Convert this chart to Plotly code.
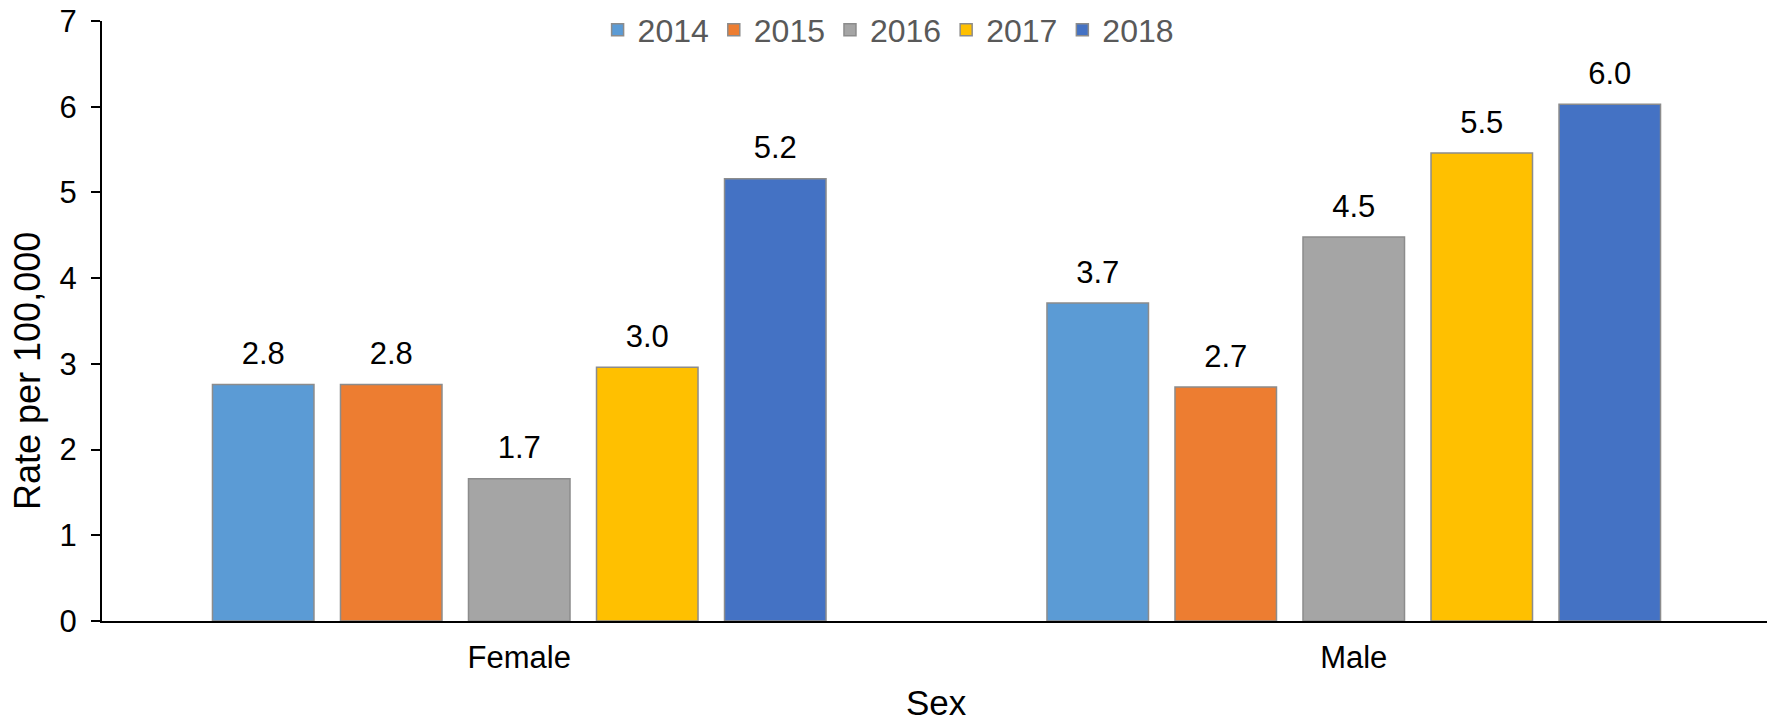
import plotly.graph_objects as go

categories = ["Female", "Male"]
years = ["2014", "2015", "2016", "2017", "2018"]
rate_2014 = [2.76, 3.71]
rate_2015 = [2.76, 2.73]
rate_2016 = [1.66, 4.48]
rate_2017 = [2.96, 5.46]
rate_2018 = [5.16, 6.03]
series = [rate_2014, rate_2015, rate_2016, rate_2017, rate_2018]
colors = ["#5B9BD5", "#ED7D31", "#A5A5A5", "#FFC000", "#4472C4"]
y_ticks = [0, 1, 2, 3, 4, 5, 6, 7]

FONT = "Arial, 'Liberation Sans', sans-serif"
LABEL_PAD = 0.12  # gap (in axis units) between bar top and its value label

fig = go.Figure()
for yr, vals, col in zip(years, series, colors):
    fig.add_trace(go.Bar(
        name=yr, x=categories, y=vals, offsetgroup=yr,
        marker=dict(color=col, line=dict(color="#8C8C8C", width=1.5)),
        hoverinfo="x+y+name",
    ))
    # transparent spacer carrying the value label slightly above the bar
    fig.add_trace(go.Bar(
        name=yr, x=categories, y=[LABEL_PAD] * len(vals), base=vals, offsetgroup=yr,
        customdata=vals, texttemplate="%{customdata:.1f}", textposition="outside",
        textfont=dict(size=31, color="#000000", family=FONT),
        marker=dict(color="rgba(0,0,0,0)", line=dict(width=0)),
        showlegend=False, hoverinfo="skip", cliponaxis=False,
    ))

# the browser page adds an 8px body margin, so the figure is sized to fit inside it
W, H = 1767, 713
L, R, T, B = 94, 4, 13, 100
ph = H - T - B
pw = W - L - R

fig.update_layout(
    width=W, height=H,
    margin=dict(l=L, r=R, t=T, b=B, autoexpand=False),
    paper_bgcolor="white", plot_bgcolor="white",
    barmode="group", bargap=0.233, bargroupgap=0.207,
    font=dict(family=FONT, size=31, color="#000000"),
    showlegend=True,
    legend=dict(orientation="h", x=0.471, xanchor="center", y=1 - 9 / ph, yanchor="middle",
                font=dict(size=32, color="#595959", family=FONT), bgcolor="rgba(0,0,0,0)",
                traceorder="normal"),
    xaxis=dict(showline=True, linecolor="#000000", linewidth=2, ticks="", automargin=False,
               tickfont=dict(size=31, color="#000000"), ticklabelstandoff=8,
               ticklabeloverflow="allow", showgrid=False),
    yaxis=dict(range=[0, 7], tickvals=y_ticks, showline=True, linecolor="#000000", linewidth=2,
               ticks="outside", ticklen=9, tickwidth=2, tickcolor="#000000", automargin=False,
               tickfont=dict(size=31, color="#000000"), ticklabelstandoff=8,
               ticklabeloverflow="allow", showgrid=False, zeroline=False),
    annotations=[
        dict(text="Rate per 100,000", xref="paper", yref="paper", x=(20 - L) / pw,
             y=(T + ph - 363) / ph, textangle=-90, showarrow=False, xanchor="center", yanchor="middle",
             font=dict(size=36, color="#000000", family=FONT)),
        dict(text="Sex", xref="paper", yref="paper", x=0.5, y=-(694 - (T + ph)) / ph,
             showarrow=False, xanchor="center", yanchor="middle",
             font=dict(size=35, color="#000000", family=FONT)),
    ],
)

fig.write_html("out.html")
